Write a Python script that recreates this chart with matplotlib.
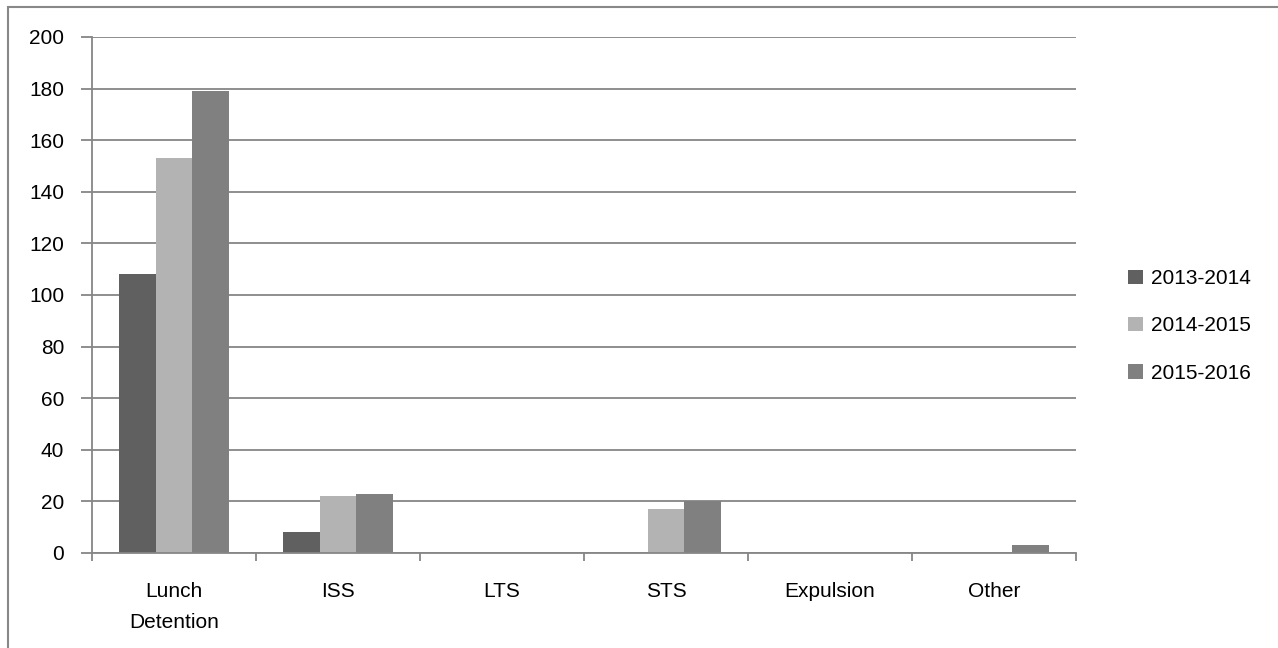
import matplotlib.pyplot as plt
import numpy as np
from matplotlib.patches import Rectangle

plt.rcParams['font.family'] = ['Liberation Sans', 'DejaVu Sans']

categories = ['Lunch\nDetention', 'ISS', 'LTS', 'STS', 'Expulsion', 'Other']
years = ['2013-2014', '2014-2015', '2015-2016']
v_2013 = [108, 8, 0, 0, 0, 0]
v_2014 = [153, 22, 0, 17, 0, 0]
v_2015 = [179, 23, 0, 20, 0, 3]
colors = ['#606060', '#b3b3b3', '#808080']

W, H = 1278, 648
fs = 15
fig = plt.figure(figsize=(W / 100, H / 100), dpi=100)
ax = fig.add_axes([92 / W, 1 - 553 / H, (1076 - 92) / W, (553 - 37) / H])

x = np.arange(len(categories))
bw = 2 / 9
for i, (vals, c, lab) in enumerate(zip([v_2013, v_2014, v_2015], colors, years)):
    ax.bar(x + (i - 1) * bw, vals, width=bw, color=c, label=lab, zorder=3)

gc = '#868686'
ax.set_xlim(-0.5, len(categories) - 0.5)
ax.set_ylim(0, 200)
ax.set_yticks(np.arange(0, 201, 20))
ax.yaxis.grid(True, color=gc, lw=1.3, zorder=0)
for s in ['top', 'right']:
    ax.spines[s].set_visible(False)
for s in ['left', 'bottom']:
    ax.spines[s].set_color(gc)
    ax.spines[s].set_linewidth(1.3)
    ax.spines[s].set_zorder(4)

ax.set_xticks(x)
ax.set_xticklabels(categories, fontsize=fs, linespacing=1.8)
ax.set_xticks(np.arange(-0.5, len(categories)), minor=True)
ax.tick_params(axis='x', which='major', length=0, pad=21)
ax.tick_params(axis='x', which='minor', length=6, width=1.3, color=gc)
ax.tick_params(axis='y', length=8, width=1.3, color=gc, labelsize=fs, pad=12)

fig.legend(loc='center left', bbox_to_anchor=(1118 / W, 1 - 326 / H),
           frameon=False, fontsize=fs, handlelength=0.68, handleheight=0.68,
           handletextpad=0.38, labelspacing=1.36, borderpad=0)

fig.patches.append(Rectangle((8 / W, -0.1), 1.2, 1.1 - 7 / H, transform=fig.transFigure,
                             fill=False, edgecolor='#888888', lw=1.5))

fig.savefig('out.png', dpi=100)
